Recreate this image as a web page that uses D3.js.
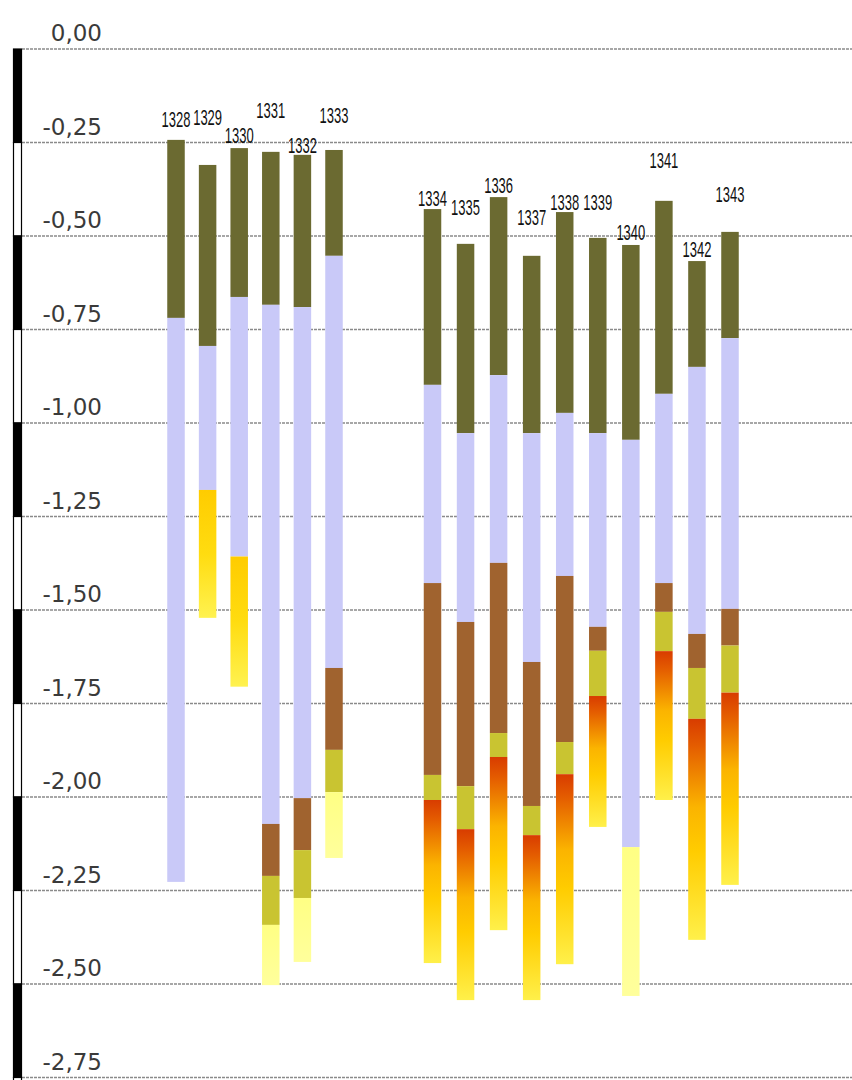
<!DOCTYPE html>
<html>
<head>
<meta charset="utf-8">
<script src="https://cdn.jsdelivr.net/npm/d3@7/dist/d3.min.js"></script>
<style>
  html, body { margin: 0; padding: 0; background: #fff; }
  svg { display: block; }
</style>
</head>
<body>
<svg id="chart" width="852" height="1080"></svg>
<script>
// ---------------- data ----------------
const groupA = ["1328", "1329", "1330", "1331", "1332", "1333"];
const groupB = ["1334", "1335", "1336", "1337", "1338", "1339", "1340", "1341", "1342", "1343"];
const sites = groupA.concat(groupB);

// depth (m) of each horizon boundary, per site (null = horizon absent)
const depthTop     = [-0.243, -0.310, -0.265, -0.275, -0.283, -0.270, -0.428, -0.521, -0.396, -0.553, -0.436, -0.505, -0.524, -0.406, -0.567, -0.489];
const oliveBase    = [-0.719, -0.794, -0.663, -0.684, -0.690, -0.553, -0.898, -1.027, -0.872, -1.027, -0.973, -1.027, -1.045, -0.922, -0.850, -0.773];
const lavenderBase = [-2.227, -1.179, -1.357, -2.072, -2.003, -1.655, -1.428, -1.532, -1.374, -1.639, -1.409, -1.545, -2.134, -1.428, -1.564, -1.497];
const brownBase    = [null, null, null, -2.211, -2.142, -1.874, -1.941, -1.971, -1.829, -2.024, -1.853, -1.609, null, -1.505, -1.655, -1.595];
const greenBase    = [null, null, null, -2.342, -2.270, -1.987, -2.008, -2.086, -1.893, -2.102, -1.939, -1.730, null, -1.610, -1.791, -1.721];
const lowerBase    = [null, -1.521, -1.705, -2.503, -2.441, -2.163, -2.444, -2.543, -2.356, -2.543, -2.447, -2.080, -2.532, -2.008, -2.382, -2.235];
const lowerKind    = [null, "gold", "gold", "pale", "pale", "pale", "fire", "fire", "fire", "fire", "fire", "fire", "pale", "fire", "fire", "fire"];

// depth at which each site label sits
const labelDepth   = [-0.209, -0.203, -0.251, -0.184, -0.278, -0.198, -0.420, -0.444, -0.385, -0.471, -0.430, -0.430, -0.511, -0.318, -0.556, -0.409];

const yTicks = [0, -0.25, -0.5, -0.75, -1, -1.25, -1.5, -1.75, -2, -2.25, -2.5, -2.75];

// ---------------- layout ----------------
const W = 852, H = 1080;
const svg = d3.select("#chart");

const y = d3.scaleLinear().domain([0, -2.75]).range([49, 49 + 374 * 2.75]);
const xA = d3.scalePoint().domain(groupA).range([176, 334]);
const xB = d3.scalePoint().domain(groupB).range([432.5, 730]);
const x = s => groupA.includes(s) ? xA(s) : xB(s);
const barW = 17.5;

const colors = {
  olive: "#6b6a31",
  lavender: "#c9c9f8",
  brown: "#a0632f",
  green: "#c9c431",
  pale: "#ffff8c"
};

// gradients
const defs = svg.append("defs");
function grad(id, stops) {
  const g = defs.append("linearGradient").attr("id", id)
    .attr("x1", 0).attr("y1", 0).attr("x2", 0).attr("y2", 1);
  stops.forEach(([o, c]) => g.append("stop").attr("offset", o).attr("stop-color", c));
}
grad("fire", [[0, "#d83c00"], [0.12, "#e45c00"], [0.4, "#fbb400"], [0.6, "#ffcc00"], [1, "#fff04a"]]);
grad("gold", [[0, "#ffcc00"], [0.5, "#ffdc10"], [1, "#fff250"]]);
grad("paleG", [[0, "#ffff84"], [1, "#ffff9c"]]);
const kindFill = { fire: "url(#fire)", gold: "url(#gold)", pale: "url(#paleG)" };

// ---------------- gridlines ----------------
svg.append("g").selectAll("line").data(yTicks).join("line")
  .attr("x1", 22).attr("x2", W)
  .attr("y1", d => y(d)).attr("y2", d => y(d))
  .attr("stroke", "#8a8a8a").attr("stroke-width", 1.3)
  .attr("stroke-dasharray", "3,1");

// tick labels
svg.append("g").selectAll("text").data(yTicks).join("text")
  .attr("x", 102).attr("y", d => y(d) - 8)
  .attr("text-anchor", "end")
  .attr("font-family", "DejaVu Sans, sans-serif")
  .attr("font-size", 23)
  .attr("fill", "#3a3a3a")
  .text(d => d3.format(".2f")(d).replace("−", "-").replace(".", ","));

// left scale bar (alternating black/white every 0.25 m)
const segs = d3.pairs(yTicks.concat([-3]));
svg.append("g").selectAll("rect").data(segs).join("rect")
  .attr("x", 13.5).attr("width", 8)
  .attr("y", d => y(d[0]))
  .attr("height", d => y(d[1]) - y(d[0]))
  .attr("fill", (d, i) => i % 2 === 0 ? "#000" : "#fff")
  .attr("stroke", "#000").attr("stroke-width", 1.2);

// ---------------- columns ----------------
const segments = [];
sites.forEach((s, i) => {
  let prev = depthTop[i];
  const add = (base, fill) => {
    if (base === null || base === undefined) return;
    segments.push({ site: s, top: prev, bottom: base, fill });
    prev = base;
  };
  add(oliveBase[i], colors.olive);
  add(lavenderBase[i], colors.lavender);
  add(brownBase[i], colors.brown);
  add(greenBase[i], colors.green);
  if (lowerKind[i]) add(lowerBase[i], kindFill[lowerKind[i]]);
});

svg.append("g").selectAll("rect").data(segments).join("rect")
  .attr("x", d => x(d.site) - barW / 2)
  .attr("width", barW)
  .attr("y", d => y(d.top))
  .attr("height", d => y(d.bottom) - y(d.top))
  .attr("fill", d => d.fill);

// site labels
svg.append("g").selectAll("text").data(sites).join("text")
  .attr("transform", (d, i) => `translate(${x(d)},${y(labelDepth[i])}) scale(1,1.75)`)
  .attr("text-anchor", "middle")
  .attr("font-family", "Liberation Sans Narrow, Arial Narrow, sans-serif")
  .attr("font-size", 13)
  .attr("fill", "#111")
  .text(d => d);
</script>
</body>
</html>
